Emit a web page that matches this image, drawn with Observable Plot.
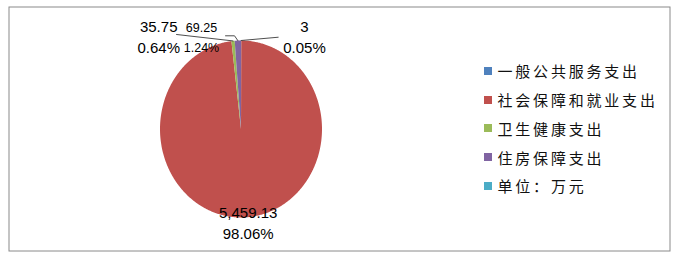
<!DOCTYPE html>
<html>
<head>
<meta charset="utf-8">
<script src="https://cdn.jsdelivr.net/npm/d3@7"></script>
<script src="https://cdn.jsdelivr.net/npm/@observablehq/plot@0.6"></script>
<style>
  html, body { margin: 0; padding: 0; background: #fff; }
  #wrap { position: relative; width: 677px; height: 254px; overflow: hidden; }
  #legend { position: absolute; left: 483.5px; top: 56.6px; width: 190px; }
  #legend .lg-swatches { margin: 0 !important; min-height: 0 !important; }
  #legend .lg-swatch { height: 28.75px !important; padding: 0 !important; margin: 0 !important; display: flex !important; align-items: center !important; }
  #legend .lg-swatch svg { margin-right: 6px !important; flex-shrink: 0; }
  #legend .lg-swatch, #legend .lg-swatch * { font-family: "Noto Sans CJK SC", sans-serif !important; font-size: 15px !important; letter-spacing: 2.8px; color: #111; overflow: visible !important; white-space: nowrap; }
</style>
</head>
<body>
<div id="wrap"></div>
<script>
// ---- data ----
const categories = ["一般公共服务支出", "社会保障和就业支出", "卫生健康支出", "住房保障支出"];
const values = [3, 5459.13, 35.75, 69.25];
const legendItems = ["一般公共服务支出", "社会保障和就业支出", "卫生健康支出", "住房保障支出", "单位：万元"];
const colors = ["#4F81BD", "#C0504D", "#9BBB59", "#8064A2", "#4BACC6"];

// ---- label layout (pie-relative coordinates, not data) ----
const labelLayout = {
  "一般公共服务支出": {x: 0.784, y1: 1.150, y2: 0.915, size: 15},
  "社会保障和就业支出": {x: 0.089, y1: -0.946, y2: -1.194, size: 15},
  "卫生健康支出": {x: -1.016, y1: 1.150, y2: 0.915, size: 15},
  "住房保障支出": {x: -0.488, y1: 1.145, y2: 0.920, size: 12.5}
};
const leaderLayout = {
  "一般公共服务支出": [[0.459, 1.037]],
  "卫生健康支出": [[-0.796, 1.068]],
  "住房保障支出": [[-0.191, 1.053], [-0.080, 1.053]]
};

const total = d3.sum(values);
const arcs = d3.pie().sort(null).startAngle(0).endAngle(2 * Math.PI)(values);

// slice outlines
const slicePts = [];
arcs.forEach((a, i) => {
  const name = categories[i];
  slicePts.push({name, x: 0, y: 0});
  const step = Math.PI / 360;
  const n = Math.max(1, Math.ceil((a.endAngle - a.startAngle) / step));
  for (let k = 0; k <= n; k++) {
    const t = a.startAngle + (a.endAngle - a.startAngle) * k / n;
    slicePts.push({name, x: Math.sin(t), y: Math.cos(t)});
  }
  slicePts.push({name, x: 0, y: 0});
});

// labels
const fmtVal = d3.format(",");
const labels = arcs.map((a, i) => {
  const name = categories[i];
  const L = labelLayout[name];
  return {name, x: L.x, y1: L.y1, y2: L.y2, size: L.size,
    v: fmtVal(values[i]), p: (values[i] / total * 100).toFixed(2) + "%"};
});
const big = labels.filter(d => d.size === 15);
const small = labels.filter(d => d.size !== 15);

// leader lines
const leaders = [];
arcs.forEach((a, i) => {
  const name = categories[i];
  const pts = leaderLayout[name];
  if (!pts) return;
  const mid = (a.startAngle + a.endAngle) / 2;
  pts.forEach(p => leaders.push({name, x: p[0], y: p[1]}));
  leaders.push({name, x: Math.sin(mid), y: Math.cos(mid)});
});

const font = '"Liberation Sans", Arial, sans-serif';
const chart = Plot.plot({
  width: 677,
  height: 254,
  marginTop: 6.5,
  marginLeft: 8.5,
  marginRight: 7.5,
  marginBottom: 3.5,
  x: {domain: [-1, 1], range: [159.5, 321.5], axis: null},
  y: {domain: [-1, 1], range: [217, 40], axis: null},
  color: {domain: legendItems, range: colors},
  style: {background: "white", overflow: "visible"},
  marks: [
    Plot.frame({stroke: "#8a8a8a", strokeWidth: 1}),
    Plot.line(slicePts, {x: "x", y: "y", z: "name", fill: "name", stroke: "none", curve: "linear"}),
    Plot.line(leaders, {x: "x", y: "y", z: "name", stroke: "#3a3a3a", strokeWidth: 0.9, curve: "linear"}),
    Plot.text(big, {x: "x", y: "y1", text: "v", fontSize: 15, fontFamily: font, fill: "#000", textAnchor: "middle"}),
    Plot.text(big, {x: "x", y: "y2", text: "p", fontSize: 15, fontFamily: font, fill: "#000", textAnchor: "middle"}),
    Plot.text(small, {x: "x", y: "y1", text: "v", fontSize: 12.5, fontFamily: font, fill: "#000", textAnchor: "middle"}),
    Plot.text(small, {x: "x", y: "y2", text: "p", fontSize: 12.5, fontFamily: font, fill: "#000", textAnchor: "middle"})
  ]
});

const legend = Plot.legend({
  color: {domain: legendItems, range: colors},
  legend: "swatches",
  columns: 1,
  swatchSize: 8,
  className: "lg"
});

const wrap = document.getElementById("wrap");
wrap.appendChild(chart);
const lg = document.createElement("div");
lg.id = "legend";
lg.appendChild(legend);
wrap.appendChild(lg);
</script>
</body>
</html>
